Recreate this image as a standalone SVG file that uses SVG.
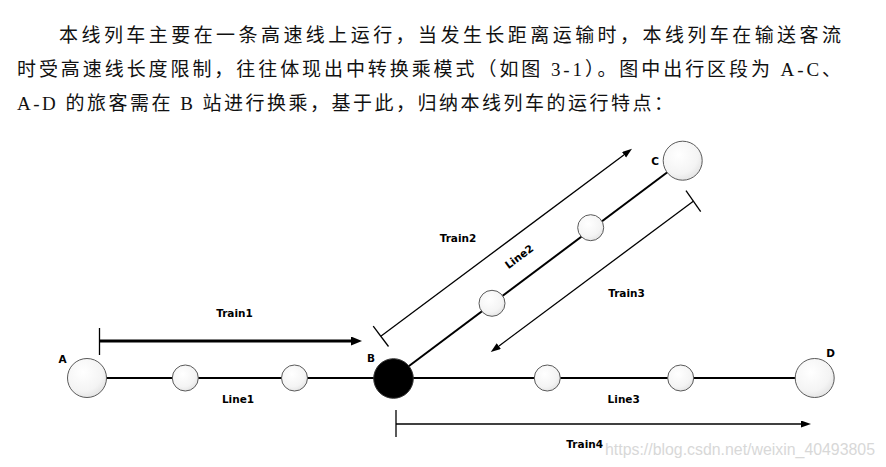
<svg xmlns="http://www.w3.org/2000/svg" width="886" height="467" viewBox="0 0 886 467">
<style>
.para{font-family:"Liberation Serif","Noto Sans CJK SC",serif;font-size:19px;fill:#111}
.lbl{font-family:"DejaVu Sans","Liberation Sans",sans-serif;font-size:10.5px;font-weight:bold;fill:#000;text-anchor:middle}
.track{stroke:#000;stroke-width:2;fill:none}
.st{stroke:#5a5a5a;stroke-width:1;fill:url(#g)}
.thin{stroke:#000;stroke-width:1.3;fill:none}
.wm{font-family:"Liberation Sans",Arial,sans-serif;font-size:16px;fill:#d8d8d8}
</style>
<defs>
<radialGradient id="g" cx="0.4" cy="0.35" r="0.7">
<stop offset="0" stop-color="#ffffff"/>
<stop offset="0.7" stop-color="#f4f4f4"/>
<stop offset="1" stop-color="#e2e2e2"/>
</radialGradient>
<marker id="ah" markerUnits="userSpaceOnUse" markerWidth="12" markerHeight="10" refX="2" refY="4.5" orient="auto">
<path d="M0,0 L11,4.5 L0,9 z" fill="#000"/>
</marker>
<marker id="ah2" markerUnits="userSpaceOnUse" markerWidth="12" markerHeight="10" refX="1" refY="3.5" orient="auto">
<path d="M0,0 L10,3.5 L0,7 z" fill="#000"/>
</marker>
</defs>
<g id="text">
<text class="para" x="59" y="42" textLength="782" lengthAdjust="spacing">本线列车主要在一条高速线上运行，当发生长距离运输时，本线列车在输送客流</text>
<text class="para" x="17" y="76" textLength="824" lengthAdjust="spacing">时受高速线长度限制，往往体现出中转换乘模式（如图 3-1）。图中出行区段为 A-C、</text>
<text class="para" x="17" y="110" textLength="656" lengthAdjust="spacing">A-D 的旅客需在 B 站进行换乘，基于此，归纳本线列车的运行特点：</text>
</g>
<g id="connectors">
<line id="line1" class="track" x1="87" y1="378" x2="393" y2="378"/>
<line id="line3" class="track" x1="393" y1="378" x2="815" y2="378"/>
<line id="line2" class="track" x1="393" y1="378" x2="683" y2="160.5" stroke-width="1.7"/>
<g id="train1">
<line x1="99.5" y1="328" x2="99.5" y2="355" stroke="#000" stroke-width="1.3"/>
<line x1="99.5" y1="341" x2="353" y2="341" stroke="#000" stroke-width="3" marker-end="url(#ah)"/>
</g>
<g id="train4">
<line x1="396" y1="410" x2="396" y2="437" stroke="#000" stroke-width="1.3"/>
<line class="thin" x1="396" y1="424" x2="802" y2="424" marker-end="url(#ah2)"/>
</g>
<g id="train2">
<line x1="373.2" y1="326.1" x2="388.5" y2="346.5" stroke="#000" stroke-width="1.3"/>
<line class="thin" x1="380.8" y1="336.3" x2="624.8" y2="154.2" marker-end="url(#ah2)"/>
</g>
<g id="train3">
<line x1="686" y1="190.7" x2="700.7" y2="211.7" stroke="#000" stroke-width="1.3"/>
<line class="thin" x1="693.3" y1="201.2" x2="498" y2="346.7" marker-end="url(#ah2)"/>
</g>
</g>
<g id="node-A"><circle class="st" cx="87" cy="378" r="19.5"/><text class="lbl" x="62.5" y="363">A</text></g>
<g id="node-s1"><circle class="st" cx="185.3" cy="378" r="13"/></g>
<g id="node-s2"><circle class="st" cx="294.5" cy="378" r="13"/></g>
<g id="node-B"><circle cx="393.5" cy="378.5" r="19.8" fill="#000" stroke="#333" stroke-width="1"/><text class="lbl" x="371" y="362">B</text></g>
<g id="node-s3"><circle class="st" cx="547.3" cy="378" r="13"/></g>
<g id="node-s4"><circle class="st" cx="680.7" cy="378" r="13"/></g>
<g id="node-D"><circle class="st" cx="814.7" cy="378" r="19.5"/><text class="lbl" x="830.5" y="357">D</text></g>
<g id="node-s5"><circle class="st" cx="492" cy="303.3" r="13"/></g>
<g id="node-s6"><circle class="st" cx="590.7" cy="227.7" r="13"/></g>
<g id="node-C"><circle class="st" cx="682.7" cy="160.7" r="19.5"/><text class="lbl" x="655" y="165">C</text></g>
<g id="labels">
<text class="lbl" x="234.5" y="317">Train1</text>
<text class="lbl" x="238" y="403">Line1</text>
<text class="lbl" x="458" y="242">Train2</text>
<text class="lbl" x="519.3" y="256.7" transform="rotate(-37 519.3 256.7)" dy="3.5">Line2</text>
<text class="lbl" x="626.5" y="296.5">Train3</text>
<text class="lbl" x="623.7" y="403">Line3</text>
<text class="lbl" x="584.7" y="448">Train4</text>
</g>
<text class="wm" x="605" y="455" textLength="270" lengthAdjust="spacingAndGlyphs">https://blog.csdn.net/weixin_40493805</text>
</svg>
